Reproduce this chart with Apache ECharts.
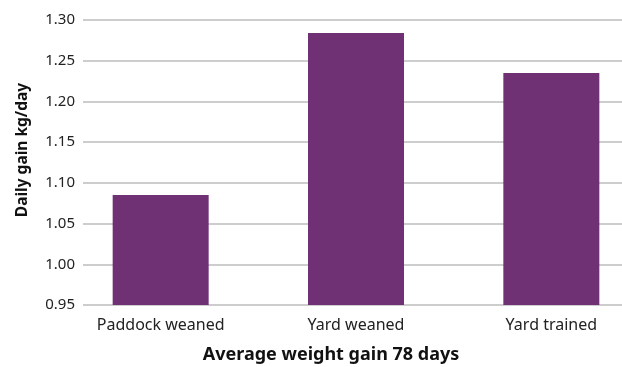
<!DOCTYPE html>
<html>
<head>
<meta charset="utf-8">
<script src="https://cdn.jsdelivr.net/npm/echarts@6/dist/echarts.min.js"></script>
<style>
  html, body { margin: 0; padding: 0; background: #fff; }
  #chart { width: 622px; height: 367px; }
</style>
</head>
<body>
<div id="chart"></div>
<script>
// Average daily gain by weaning method
const categories = ['Paddock weaned', 'Yard weaned', 'Yard trained'];
const dailyGain = [1.085, 1.284, 1.235];
const yMin = 0.95;
const yMax = 1.30;
const yStep = 0.05;
const yTitle = 'Daily gain kg/day';
const xTitle = 'Average weight gain 78 days';

const FONT = '"Source Sans Pro", "Noto Sans", sans-serif';
const chart = echarts.init(document.getElementById('chart'));

chart.setOption({
  animation: false,
  backgroundColor: '#ffffff',
  grid: [
    // gridline panel
    { left: 83, right: 0, top: 20, height: 285, outerBoundsMode: 'none' },
    // bar panel (category bands)
    { left: 63, width: 586, top: 20, height: 285, outerBoundsMode: 'none' }
  ],
  xAxis: [
    { type: 'category', gridIndex: 0, data: categories, show: false },
    {
      type: 'category', gridIndex: 1, data: categories,
      axisLine: { show: false },
      axisTick: { show: false },
      axisLabel: { color: '#222', fontFamily: FONT, fontSize: 16, margin: 12 }
    }
  ],
  yAxis: [
    {
      type: 'value', gridIndex: 0, min: yMin, max: yMax, interval: yStep,
      axisLine: { show: false },
      axisTick: { show: false },
      axisLabel: {
        color: '#222', fontFamily: FONT, fontSize: 15, margin: 8,
        formatter: v => v.toFixed(2)
      },
      splitLine: { lineStyle: { color: '#bdbdbd', width: 1.5 } }
    },
    {
      type: 'value', gridIndex: 1, min: yMin, max: yMax, interval: yStep,
      show: false, splitLine: { show: false }
    }
  ],
  series: [{
    type: 'bar',
    xAxisIndex: 1,
    yAxisIndex: 1,
    data: dailyGain,
    barWidth: 96,
    itemStyle: { color: '#6f3074' }
  }],
  graphic: [
    {
      type: 'text',
      x: 23, y: 150, rotation: Math.PI / 2,
      style: {
        text: yTitle, fill: '#111', fontFamily: FONT, fontSize: 15.5,
        fontWeight: 'bold', textAlign: 'center', textVerticalAlign: 'middle'
      }
    },
    {
      type: 'text', x: 331, y: 355,
      style: {
        text: xTitle, fill: '#111', fontFamily: FONT, fontSize: 18,
        fontWeight: 'bold', textAlign: 'center', textVerticalAlign: 'middle'
      }
    }
  ]
});
</script>
</body>
</html>
